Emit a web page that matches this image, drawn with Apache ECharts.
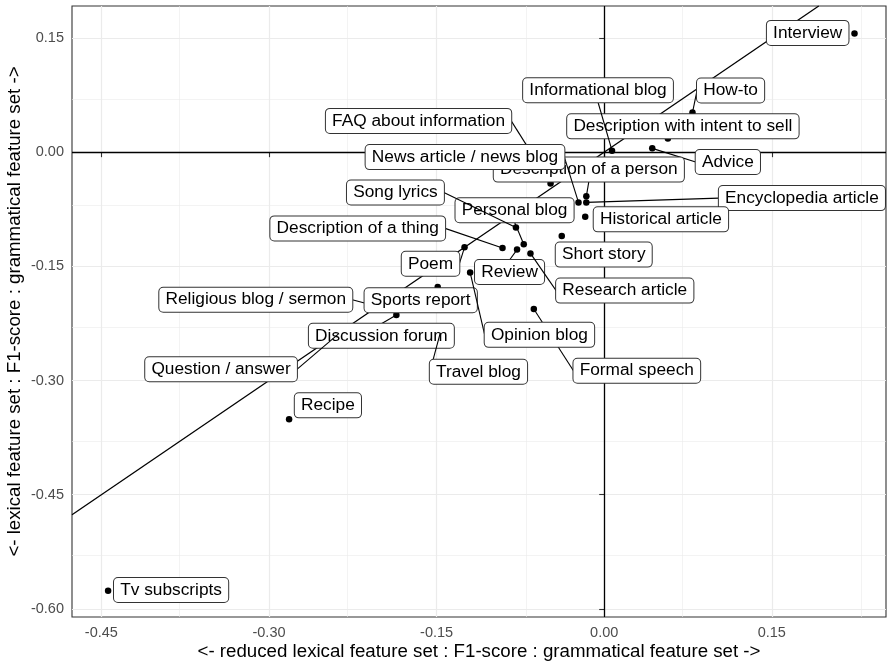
<!DOCTYPE html>
<html>
<head>
<meta charset="utf-8">
<script src="https://cdn.jsdelivr.net/npm/echarts@6/dist/echarts.min.js"></script>
<style>
  html, body { margin: 0; padding: 0; background: #ffffff; }
  #chart { width: 887px; height: 665px; }
</style>
</head>
<body>
<div id="chart"></div>
<script>
// Genre labels, in drawing order (later labels sit on top of earlier ones)
const genres = [
  'Interview', 'How-to', 'Description with intent to sell', 'Informational blog', 'Advice',
  'FAQ about information', 'Description of a person', 'News article / news blog',
  'Encyclopedia article', 'Historical article', 'Personal blog', 'Song lyrics',
  'Description of a thing', 'Short story', 'Poem', 'Review', 'Research article',
  'Religious blog / sermon', 'Sports report', 'Formal speech', 'Opinion blog',
  'Discussion forum', 'Travel blog', 'Question / answer', 'Recipe', 'Tv subscripts'
];

// reduced lexical feature set : F1-score : grammatical feature set
const reducedLexicalVsGrammatical = [
  0.224, 0.079, 0.057, 0.007, 0.043,
  -0.048, -0.016, -0.023,
  -0.016, -0.017, -0.072, -0.079,
  -0.091, -0.038, -0.125, -0.078, -0.066,
  -0.202, -0.149, -0.063, -0.120,
  -0.186, -0.147, -0.238, -0.282, -0.444
];

// lexical feature set : F1-score : grammatical feature set
const lexicalVsGrammatical = [
  0.156, 0.052, 0.018, 0.002, 0.005,
  -0.041, -0.058, -0.066,
  -0.066, -0.085, -0.121, -0.099,
  -0.126, -0.110, -0.125, -0.128, -0.133,
  -0.203, -0.177, -0.206, -0.158,
  -0.214, -0.239, -0.239, -0.351, -0.576
];

// Label box centre, offset in pixels from its point (repelled layout)
const labelOffsets = [
  [-46.8, -0.5], [38.1, -22], [15, -12.1], [-14, -60.4], [75.6, 13.7],
  [-132, -62.5], [2.5, -26.7], [-113.5, -45.3],
  [215.6, -4.3], [75.7, 2.5], [-9.2, -34], [-120.5, -35],
  [-144.8, -19.7], [42, 18.7], [-34, 16.5], [-7.5, 22.4], [94.3, 37.2],
  [-122.7, -7], [-17, 13.3], [103, 61.7], [69.3, 62.4],
  [-15, 20.7], [38.5, 37.7], [-117.2, 35.2], [38.8, -14], [63, -0.7]
];

// Labels that sit right against their point and get no connector
const noSegment = [
  'Interview', 'Description with intent to sell', 'Historical article',
  'Short story', 'Sports report', 'Recipe', 'Tv subscripts'
];

const xTicks = [-0.45, -0.30, -0.15, 0.00, 0.15];
const yTicks = [-0.60, -0.45, -0.30, -0.15, 0.00, 0.15];
const xMinor = [-0.375, -0.225, -0.075, 0.075, 0.225];
const yMinor = [-0.525, -0.375, -0.225, -0.075, 0.075];
const xRange = [-0.4763, 0.2522];
const yRange = [-0.6106, 0.192];

// Reference line y = x
const refSlope = 1;
const refIntercept = 0;

const FONT = '"Liberation Sans", Arial, Helvetica, sans-serif';
const LABEL_SIZE = 17.3;
const PAD_X = 6.2, PAD_Y = 3, LINE_H = 18;

const measureCtx = document.createElement('canvas').getContext('2d');
measureCtx.font = LABEL_SIZE + 'px ' + FONT;

const points = genres.map((g, i) => [reducedLexicalVsGrammatical[i], lexicalVsGrammatical[i]]);

// Endpoints of y = x clipped to the panel
const refX0 = Math.max(xRange[0], (yRange[0] - refIntercept) / refSlope);
const refX1 = Math.min(xRange[1], (yRange[1] - refIntercept) / refSlope);

const gridMajor = { color: '#ebebeb', width: 1.2, type: 'solid' };
const gridMinor = { color: '#ebebeb', width: 0.6, type: 'solid' };

const gridLines = []
  .concat(xMinor.map(v => ({ xAxis: v, lineStyle: gridMinor })))
  .concat(yMinor.map(v => ({ yAxis: v, lineStyle: gridMinor })))
  .concat(xTicks.map(v => ({ xAxis: v, lineStyle: gridMajor })))
  .concat(yTicks.map(v => ({ yAxis: v, lineStyle: gridMajor })));

const chart = echarts.init(document.getElementById('chart'), null, { renderer: 'canvas' });

const axisCommon = {
  type: 'value',
  axisLine: { show: false },
  splitLine: { show: false },
  nameLocation: 'middle',
  nameMoveOverlap: false,
  nameTextStyle: { color: '#000', fontSize: 18.7, fontFamily: FONT },
  axisTick: { show: true, length: 5, lineStyle: { color: '#333333', width: 1.1 } },
  axisLabel: {
    color: '#4d4d4d', fontSize: 14.5, fontFamily: FONT,
    formatter: v => v.toFixed(2)
  }
};

chart.setOption({
  animation: false,
  backgroundColor: '#ffffff',
  grid: {
    left: 72, right: 1, top: 6, bottom: 48,
    outerBoundsMode: 'none',
    containLabel: false,
    show: true, borderColor: '#333333', borderWidth: 1.1, backgroundColor: 'transparent'
  },
  xAxis: Object.assign({}, axisCommon, {
    min: xRange[0], max: xRange[1],
    name: '<- reduced lexical feature set : F1-score : grammatical feature set ->',
    nameGap: 25,
    axisTick: Object.assign({}, axisCommon.axisTick, { customValues: xTicks }),
    axisLabel: Object.assign({}, axisCommon.axisLabel, { customValues: xTicks, margin: 8 })
  }),
  yAxis: Object.assign({}, axisCommon, {
    min: yRange[0], max: yRange[1],
    name: '<- lexical feature set : F1-score : grammatical feature set ->',
    nameGap: 48,
    axisTick: Object.assign({}, axisCommon.axisTick, { customValues: yTicks }),
    axisLabel: Object.assign({}, axisCommon.axisLabel, { customValues: yTicks, margin: 8 })
  }),
  series: [
    {
      // panel grid
      type: 'line', data: [], z: 0, silent: true,
      markLine: {
        z: 0, silent: true, symbol: 'none', label: { show: false }, animation: false,
        data: gridLines
      }
    },
    {
      // zero axes and the y = x reference
      type: 'line', data: [], z: 1, silent: true,
      markLine: {
        z: 1, silent: true, symbol: 'none', label: { show: false }, animation: false,
        lineStyle: { color: '#000', width: 1.3, type: 'solid' },
        data: [
          { xAxis: 0 },
          { yAxis: 0 },
          [
            { coord: [refX0, refSlope * refX0 + refIntercept] },
            { coord: [refX1, refSlope * refX1 + refIntercept] }
          ]
        ]
      }
    },
    {
      type: 'scatter', z: 2, silent: true,
      symbol: 'circle', symbolSize: 6.5,
      itemStyle: { color: '#000', opacity: 1 },
      data: points
    },
    {
      type: 'custom', z: 3, silent: true, clip: false,
      data: points,
      renderItem: function (params, api) {
        const i = params.dataIndex;
        const name = genres[i];
        const p = api.coord([api.value(0), api.value(1)]);
        const cx = p[0] + labelOffsets[i][0];
        const cy = p[1] + labelOffsets[i][1];
        const w = measureCtx.measureText(name).width + 2 * PAD_X;
        const h = LINE_H + 2 * PAD_Y;
        const children = [];
        if (noSegment.indexOf(name) < 0) {
          const cands = [[cx, cy - h / 2], [cx, cy + h / 2], [cx - w / 2, cy], [cx + w / 2, cy]];
          let best = cands[0], bd = Infinity;
          cands.forEach(c => {
            const d = Math.hypot(c[0] - p[0], c[1] - p[1]);
            if (d < bd) { bd = d; best = c; }
          });
          children.push({
            type: 'line',
            shape: { x1: p[0], y1: p[1], x2: best[0], y2: best[1] },
            style: { stroke: '#000', lineWidth: 1.1 }
          });
        }
        children.push({
          type: 'text',
          x: cx, y: cy,
          style: {
            text: name, fill: '#000',
            fontSize: LABEL_SIZE, fontFamily: FONT,
            align: 'center', verticalAlign: 'middle',
            lineHeight: LINE_H,
            backgroundColor: '#ffffff',
            borderColor: '#333333', borderWidth: 1, borderRadius: 4,
            padding: [PAD_Y, PAD_X, PAD_Y, PAD_X]
          }
        });
        return { type: 'group', children: children };
      }
    }
  ]
});
</script>
</body>
</html>
